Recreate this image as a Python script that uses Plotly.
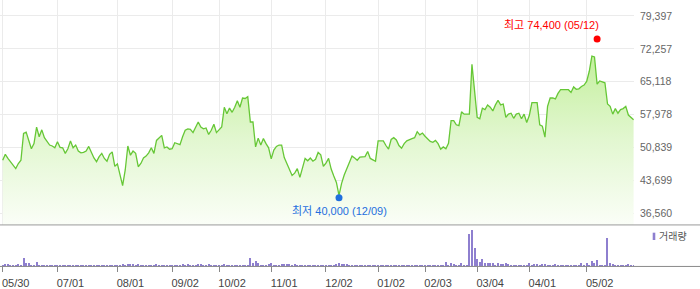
import pandas as pd
import plotly.graph_objects as go

# ---------------- data ----------------
holidays = ["2024-06-06", "2024-08-15", "2024-09-16", "2024-09-17", "2024-09-18",
            "2024-10-01", "2024-10-03", "2024-10-09", "2024-12-25", "2024-12-31",
            "2025-01-01", "2025-01-27", "2025-01-28", "2025-01-29", "2025-01-30",
            "2025-03-03", "2025-05-01", "2025-05-05", "2025-05-06"]

close = [
    48100, 49400, 48500, 47800, 47100, 46300, 47400, 48100, 53900, 54200,
    52400, 50600, 51700, 55300, 53200, 54700, 53000, 52100, 51400, 51200,
    50800, 52100, 50900, 50800, 49600, 50600, 52300, 50800, 51400, 50100,
    49700, 49800, 50100, 51100, 49900, 48600, 47800, 48900, 49600, 48500,
    47900, 49400, 49900, 46800, 47300, 44900, 42600, 46000, 51200, 49200,
    50100, 49600, 46700, 47400, 48600, 49000, 49700, 50800, 49600, 52400,
    53000, 53500, 50800, 51000, 50500, 50600, 51900, 51700, 51500, 53200,
    54600, 54900, 54800, 54100, 55300, 56400, 55300, 54900, 55100, 53700,
    54600, 55900, 54100, 54800, 55300, 59600, 58200, 59400, 58500, 59600,
    61000, 59600, 61600, 61500, 61900, 56400, 56400, 51000, 52900, 51400,
    52800, 51700, 50800, 48400, 50300, 51100, 51400, 51400, 48700, 47400,
    46000, 44800, 45300, 46300, 44400, 46300, 48500, 48000, 48600, 47900,
    48300, 49800, 49300, 46800, 47500, 48500, 46200, 44700, 43300, 40500,
    43100, 44900, 46300, 47700, 49000, 48600, 48100, 48800, 48800, 48900,
    50000, 48500, 48200, 47900, 52300, 52300, 52300, 51300, 50500, 52600,
    53000, 52500, 51300, 50700, 51700, 52300, 52600, 52800, 53000, 54300,
    53600, 54000, 53300, 52800, 52200, 52000, 52400, 51700, 50500, 51000,
    50600, 51800, 56700, 56700, 55800, 55600, 58600, 58100, 58100, 58100,
    68900, 63500, 57400, 57100, 59400, 59100, 60100, 59600, 58800, 60100,
    61100, 60100, 60300, 57400, 58100, 58300, 57200, 58100, 58300, 57100,
    58100, 56300, 57800, 60600, 60600, 60600, 55800, 55500, 53100, 59800,
    61600, 61600, 61400, 62600, 63400, 63400, 63300, 63400, 62800, 64000,
    63500, 63600, 64100, 64400, 65200, 67400, 70700, 70500, 64600, 65300,
    65100, 64900, 60300, 59800, 58100, 59300, 58300, 59100, 59300, 59800,
    57900, 57400, 56900]

volume = [
    90, 115, 115, 60, 60, 60, 115, 60, 430, 200,
    170, 100, 60, 230, 60, 60, 60, 60, 60, 60,
    60, 60, 60, 60, 60, 60, 60, 60, 60, 30,
    30, 60, 30, 60, 60, 60, 60, 60, 60, 60,
    60, 60, 60, 60, 60, 60, 115, 60, 115, 115,
    115, 60, 115, 60, 60, 60, 60, 60, 60, 115,
    60, 60, 60, 60, 60, 60, 60, 60, 60, 115,
    60, 115, 60, 60, 60, 115, 115, 60, 60, 115,
    60, 60, 60, 60, 60, 115, 60, 60, 60, 60,
    60, 60, 60, 60, 60, 430, 165, 270, 165, 60,
    100, 60, 115, 165, 100, 60, 60, 115, 115, 115,
    115, 60, 115, 60, 60, 60, 60, 60, 60, 60,
    60, 60, 60, 60, 60, 60, 60, 60, 115, 165,
    115, 115, 115, 60, 60, 60, 60, 60, 60, 60,
    60, 60, 60, 60, 60, 60, 60, 60, 60, 60,
    30, 30, 60, 60, 60, 60, 60, 60, 60, 60,
    60, 60, 60, 60, 60, 60, 60, 60, 60, 60,
    250, 60, 200, 115, 80, 60, 165, 65, 60, 1620,
    1830, 920, 370, 230, 370, 165, 165, 165, 165, 60,
    200, 115, 115, 165, 115, 60, 60, 60, 60, 60,
    60, 60, 200, 60, 115, 115, 60, 115, 115, 60,
    60, 60, 115, 60, 60, 60, 60, 60, 60, 60,
    60, 60, 165, 60, 165, 60, 285, 165, 315, 80,
    80, 60, 1420, 165, 115, 80, 60, 80, 60, 80,
    115, 65, 60]

tick_dates = ["2024-05-30", "2024-07-01", "2024-08-01", "2024-09-02", "2024-10-02",
              "2024-11-01", "2024-12-02", "2025-01-02", "2025-02-03", "2025-03-04",
              "2025-04-01", "2025-05-02"]
tick_labels = ["05/30", "07/01", "08/01", "09/02", "10/02", "11/01", "12/02",
               "01/02", "02/03", "03/04", "04/01", "05/02"]

price_ticks = [36560, 43699, 50839, 57978, 65118, 72257, 79397]

high_date, high_value, high_label = "2025-05-12", 74400, "최고 74,400 (05/12)"
low_date, low_value, low_label = "2024-12-09", 40000, "최저 40,000 (12/09)"

# trading calendar (categories)
days = pd.bdate_range("2024-05-30", "2025-05-30")
days = [d.strftime("%Y-%m-%d") for d in days if d.strftime("%Y-%m-%d") not in holidays]
dates = days[:len(close)]

# ---------------- figure ----------------
W, H = 700, 289
plot_right = 634
sep_y = 226.5
base_y = 268.3
px_per_day = 2.607
x0_px = 2.7

def py(p):  # pixel y -> paper y
    return (H - p) / H

xrange = [-x0_px / px_per_day, (plot_right - x0_px) / px_per_day]
price_per_px = 7139.5 / 33.17
y_top = 79397 + 16.0 * price_per_px
y_bot = 36560 - (sep_y - 215.0) * price_per_px

FONT = "Liberation Sans, Arial, Noto Sans CJK KR, sans-serif"

fig = go.Figure()
fig.add_trace(go.Scatter(
    x=dates, y=close, mode="lines", xaxis="x", yaxis="y",
    line=dict(color="#66c736", width=1.3),
    fill="tozeroy",
    fillgradient=dict(type="vertical", start=y_bot, stop=71500,
                      colorscale=[[0, "#fbfef8"], [0.5, "#e2f7d0"], [1, "#c3ef9c"]]),
    hoverinfo="skip"))
fig.add_trace(go.Scatter(
    x=[high_date], y=[high_value], mode="markers", xaxis="x", yaxis="y",
    marker=dict(color="#ff0000", size=7), hoverinfo="skip"))
fig.add_trace(go.Scatter(
    x=[low_date], y=[low_value], mode="markers", xaxis="x", yaxis="y",
    marker=dict(color="#1f6fde", size=7), hoverinfo="skip"))
fig.add_trace(go.Bar(
    x=dates, y=volume, xaxis="x2", yaxis="y2", width=0.42,
    marker=dict(color="#8e7fcf", line=dict(width=0)), hoverinfo="skip"))

fig.update_layout(
    width=W, height=H,
    margin=dict(l=0, r=0, t=0, b=0),
    paper_bgcolor="white", plot_bgcolor="rgba(0,0,0,0)",
    showlegend=False,
    font=dict(family=FONT, size=11, color="#555"),
    xaxis=dict(domain=[0, plot_right / W], type="category", range=xrange,
               anchor="y", tickmode="array", tickvals=tick_dates,
               showticklabels=False, ticks="", showgrid=True,
               gridcolor="#ebebeb", gridwidth=1, zeroline=False, showline=False),
    xaxis2=dict(domain=[0, plot_right / W], type="category", range=xrange,
                matches="x", anchor="y2", tickmode="array", tickvals=tick_dates,
                ticktext=tick_labels, ticks="outside", ticklen=5, tickwidth=1,
                tickcolor="#888", showgrid=False, zeroline=False, showline=False,
                tickfont=dict(size=11, color="#444", family=FONT),
                ticklabelshift=13, ticklabelstandoff=1),
    yaxis=dict(domain=[py(sep_y), 1], range=[y_bot, y_top], side="right",
               anchor="x", tickmode="array", tickvals=price_ticks,
               ticktext=[f"{v:,}" for v in price_ticks], ticks="",
               showgrid=True, gridcolor="#ebebeb", gridwidth=1, zeroline=False,
               showline=False, ticklabelstandoff=5,
               tickfont=dict(size=10.5, color="#666", family=FONT)),
    yaxis2=dict(domain=[py(base_y), py(sep_y)], range=[0, (base_y - sep_y) * 50],
                anchor="x2", showgrid=False, showticklabels=False, ticks="",
                zeroline=False, showline=False),
    bargap=0,
)

# panel separator and volume baseline
fig.add_shape(type="line", xref="paper", yref="paper", x0=0, x1=1,
              y0=py(sep_y), y1=py(sep_y), line=dict(color="#9a9a9a", width=1))
fig.add_shape(type="line", xref="paper", yref="paper", x0=0, x1=1,
              y0=py(base_y), y1=py(base_y), line=dict(color="#8a8a8a", width=1))

# volume legend
fig.add_shape(type="rect", xref="paper", yref="paper",
              x0=652.7 / W, x1=655.3 / W, y0=py(241.7), y1=py(234.3),
              line=dict(width=0), fillcolor="#8e7fcf")
fig.add_annotation(xref="paper", yref="paper", x=657 / W, y=py(238),
                   xanchor="left", yanchor="middle", showarrow=False,
                   text="거래량", font=dict(size=10, color="#555", family=FONT))

# high / low labels
fig.add_annotation(x=high_date, y=high_value, xref="x", yref="y",
                   xanchor="right", yanchor="bottom", showarrow=False,
                   xshift=4, yshift=6, text=high_label,
                   font=dict(size=11, color="#ff0000", family=FONT))
fig.add_annotation(x=low_date, y=low_value, xref="x", yref="y",
                   xanchor="center", yanchor="top", showarrow=False,
                   yshift=-5, text=low_label,
                   font=dict(size=11, color="#1f6fde", family=FONT))

fig.write_html("out.html")
